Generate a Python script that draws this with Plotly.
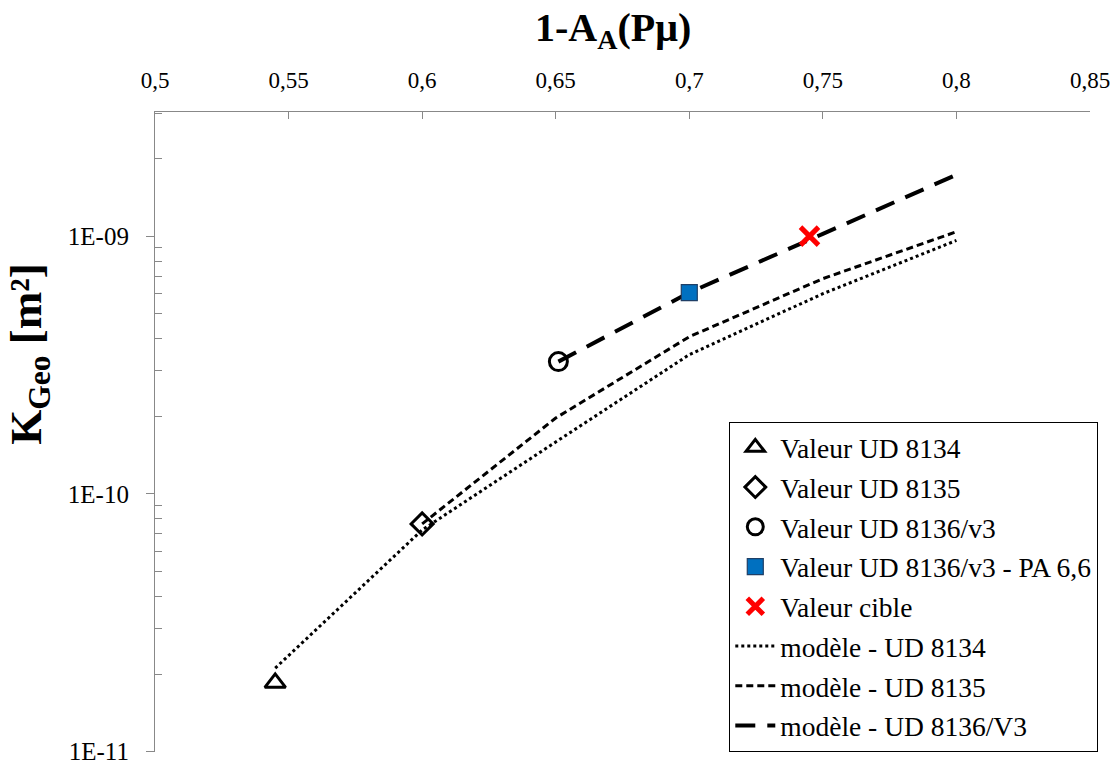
import plotly.graph_objects as go
import numpy as np

# Measured points
x_ud8134 = [0.545]
y_ud8134 = [1.85e-11]
x_ud8135 = [0.6]
y_ud8135 = [7.65e-11]
x_ud8136 = [0.651]
y_ud8136 = [3.26e-10]
x_pa66 = [0.7]
y_pa66 = [6.04e-10]
x_cible = [0.745]
y_cible = [1.0e-09]

# Model curves
x_mod8134 = [0.545, 0.6, 0.65, 0.7, 0.75, 0.8]
y_mod8134 = [2.11e-11, 7.25e-11, 1.59e-10, 3.47e-10, 5.98e-10, 9.62e-10]
x_mod8135 = [0.6, 0.65, 0.7, 0.75, 0.8]
y_mod8135 = [7.65e-11, 1.97e-10, 4.07e-10, 6.84e-10, 1.04e-09]
x_mod8136 = [0.651, 0.7, 0.75, 0.8]
y_mod8136 = [3.26e-10, 6.04e-10, 1.02e-09, 1.73e-09]

x_ticks = [0.5, 0.55, 0.6, 0.65, 0.7, 0.75, 0.8, 0.85]
y_ticks = [1e-11, 1e-10, 1e-09]
y_ticktext = ["1E-11", "1E-10", "1E-09"]

FONT = "Times New Roman, Liberation Serif, serif"

fig = go.Figure()

# model lines (drawn first)
fig.add_trace(go.Scatter(x=x_mod8134, y=y_mod8134, mode="lines", name="modèle - UD 8134",
                         line=dict(color="black", width=3, dash="dot"), legendrank=6,
                         legendgroup="g6"))
fig.add_trace(go.Scatter(x=x_mod8135, y=y_mod8135, mode="lines", name="modèle - UD 8135",
                         line=dict(color="black", width=3, dash="7px,4px"), legendrank=7,
                         legendgroup="g7"))
fig.add_trace(go.Scatter(x=x_mod8136, y=y_mod8136, mode="lines", name="modèle - UD 8136/V3",
                         line=dict(color="black", width=4, dash="20px,12px"), legendrank=8,
                         legendgroup="g8"))

# markers
fig.add_trace(go.Scatter(x=x_ud8134, y=y_ud8134, mode="markers", name="Valeur UD 8134",
                         marker=dict(symbol="triangle-up-open", size=18, color="black",
                                     line=dict(width=3, color="black")), legendrank=1,
                         legendgroup="g1"))
fig.add_trace(go.Scatter(x=x_ud8135, y=y_ud8135, mode="markers", name="Valeur UD 8135",
                         marker=dict(symbol="diamond-open", size=17, color="black",
                                     line=dict(width=3, color="black")), legendrank=2,
                         legendgroup="g2"))
fig.add_trace(go.Scatter(x=x_ud8136, y=y_ud8136, mode="markers", name="Valeur UD 8136/v3",
                         marker=dict(symbol="circle-open", size=18, color="black",
                                     line=dict(width=3, color="black")), legendrank=3,
                         legendgroup="g3"))
fig.add_trace(go.Scatter(x=x_pa66, y=y_pa66, mode="markers", name="Valeur UD 8136/v3 - PA 6,6",
                         marker=dict(symbol="square", size=16, color="#0070C0",
                                     line=dict(width=1.2, color="#1F3F66")), legendrank=4,
                         legendgroup="g4"))
fig.add_trace(go.Scatter(x=x_cible, y=y_cible, mode="markers", name="Valeur cible",
                         marker=dict(symbol="x-thin-open", size=18, color="#FF0000",
                                     line=dict(width=5, color="#FF0000")), legendrank=5,
                         legendgroup="g5"))

fig.update_layout(
    width=1110, height=775,
    margin=dict(l=147, r=28, t=104, b=31, autoexpand=False),
    paper_bgcolor="white", plot_bgcolor="white",
    separators=", ",
    font=dict(family=FONT, color="black", size=22),
    showlegend=True,
    legend=dict(
        x=0.614, y=0.516, xanchor="left", yanchor="top",
        bgcolor="white", bordercolor="black", borderwidth=1.2,
        font=dict(family=FONT, size=27.5, color="black"),
        tracegroupgap=1, traceorder="grouped",
        itemwidth=40,
    ),
    xaxis=dict(
        side="top", range=[0.5, 0.85], tickvals=x_ticks,
        ticks="inside", ticklen=7, tickcolor="#888888", tickwidth=1,
        showline=True, linecolor="#888888", linewidth=1.2,
        showgrid=False, zeroline=False, automargin=False,
        ticklabelstandoff=14,
        tickfont=dict(family=FONT, size=23),
    ),
    yaxis=dict(
        type="log", range=[-11.001, np.log10(3.03e-9)],
        tickvals=y_ticks, ticktext=y_ticktext,
        ticks="outside", ticklen=8, tickcolor="#888888", tickwidth=1,
        ticklabelstandoff=12, ticklabeloverflow="allow",
        minor=dict(ticks="inside", ticklen=7, tickcolor="#888888", tickwidth=1,
                   tickmode="array",
                   tickvals=[m * 10.0 ** e for e in (-11, -10, -9) for m in range(2, 10)
                             if m * 10.0 ** e < 3.03e-9]),
        showline=True, linecolor="#888888", linewidth=1.2,
        showgrid=False, zeroline=False, automargin=False,
        tickfont=dict(family=FONT, size=25),
    ),
    annotations=[
        dict(text="<b>1-A<sub>A</sub>(Pμ)</b>", xref="paper", yref="paper",
             x=0.49, y=1.128, xanchor="center", yanchor="middle", showarrow=False,
             font=dict(family=FONT, size=40, color="black")),
        dict(text="<b>K<sub>Geo</sub> [m²]</b>", xref="paper", yref="paper",
             x=-0.135, y=0.622, xanchor="center", yanchor="middle", showarrow=False,
             textangle=-90, font=dict(family=FONT, size=45, color="black")),
    ],
)

fig.write_html("out.html")
